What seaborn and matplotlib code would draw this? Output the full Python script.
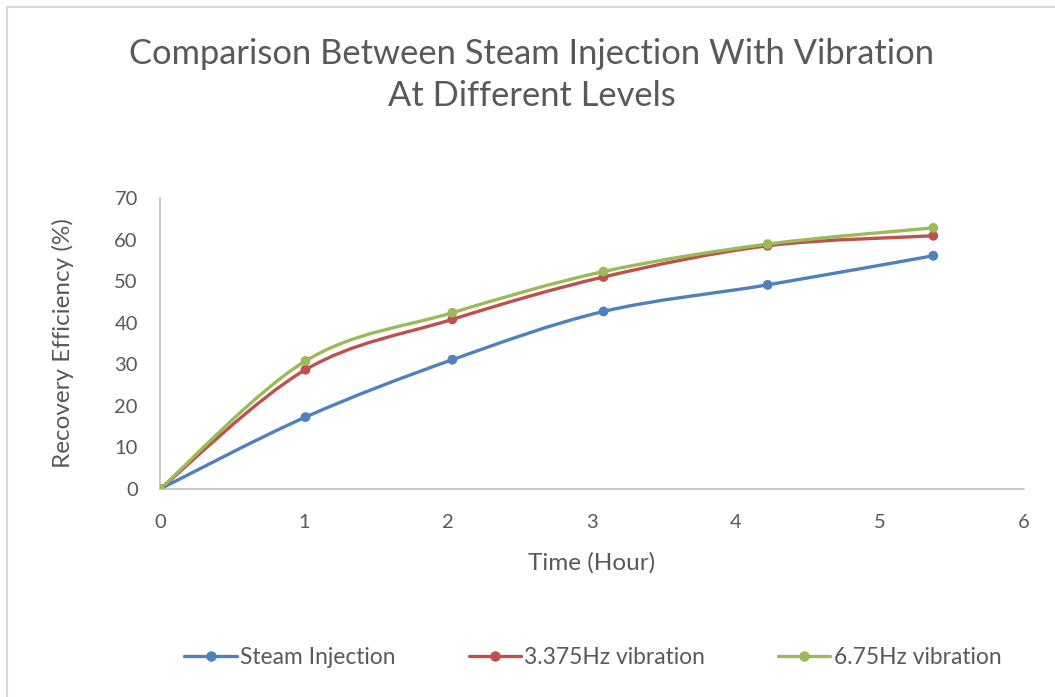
import numpy as np
import pandas as pd
import matplotlib
matplotlib.use('Agg')
import matplotlib.pyplot as plt
from matplotlib.path import Path
from matplotlib.patches import PathPatch, Rectangle
from matplotlib.lines import Line2D
import seaborn as sns

# values
hours = [0, 1.01, 2.03, 3.08, 4.22, 5.37]
steam_injection = [0, 17.3, 31.1, 42.7, 49.1, 56.1]
vib_3375 = [0, 28.7, 40.8, 51.0, 58.5, 60.9]
vib_675 = [0, 30.8, 42.4, 52.3, 58.9, 62.8]
series_names = ['Steam Injection', '3.375Hz vibration', '6.75Hz vibration']
colors = ['#4f81bd', '#c0504d', '#9bbb59']

df = pd.DataFrame({
    'time': hours * 3,
    'recovery': steam_injection + vib_3375 + vib_675,
    'series': [n for n in series_names for _ in hours],
})

sns.set_style('white')
plt.rcParams['font.family'] = ['Lato', 'DejaVu Sans']
text_col = '#595959'


def smooth_path(x, y):
    # Excel-style smoothed line: cubic bezier through each point
    pts = np.column_stack([x, y]).astype(float)
    n = len(pts)
    verts = [pts[0]]
    codes = [Path.MOVETO]
    for i in range(n - 1):
        p0 = pts[max(i - 1, 0)]
        p1 = pts[i]
        p2 = pts[i + 1]
        p3 = pts[min(i + 2, n - 1)]
        verts += [p1 + (p2 - p0) / 6, p2 - (p3 - p1) / 6, p2]
        codes += [Path.CURVE4] * 3
    return Path(verts, codes)


fig = plt.figure(figsize=(10.55, 6.97), dpi=100)
ax = fig.add_axes([0.1517, 0.2984, 0.8189, 0.4176])

for name, col in zip(series_names, colors):
    sub = df[df['series'] == name]
    ax.add_patch(PathPatch(smooth_path(sub['time'], sub['recovery']),
                           facecolor='none', edgecolor=col, lw=2.4,
                           capstyle='round', zorder=2))

sns.scatterplot(data=df, x='time', y='recovery', hue='series',
                palette=colors, s=50, edgecolor='none', legend=False,
                ax=ax, zorder=3)

ax.set_xlim(0, 6)
ax.set_ylim(0, 70)
ax.set_xticks(range(0, 7))
ax.set_yticks(range(0, 71, 10))
ax.tick_params(axis='both', length=0, labelsize=14.5, labelcolor=text_col)
ax.tick_params(axis='y', pad=16)
ax.tick_params(axis='x', pad=18)
for s in ['top', 'right']:
    ax.spines[s].set_visible(False)
for s in ['left', 'bottom']:
    ax.spines[s].set_color('#bfbfbf')
    ax.spines[s].set_linewidth(1.2)

ax.set_xlabel('Time (Hour)', fontsize=17.5, color=text_col, labelpad=15)
ax.set_ylabel('Recovery Efficiency (%)', fontsize=17.5, color=text_col, labelpad=29)

fig.text(0.504, 1 - 75 / 697,
         'Comparison Between Steam Injection With Vibration\nAt Different Levels',
         ha='center', va='center', fontsize=24.8, color=text_col, linespacing=1.42)

handles = [Line2D([], [], color=c, lw=2.4, marker='o', markersize=6.5) for c in colors]
fig.legend(handles, series_names, loc='center', ncol=3,
           bbox_to_anchor=(0.562, 1 - 657 / 697), frameon=False,
           fontsize=16.4, labelcolor=text_col, handlelength=2.3,
           handletextpad=0.15, columnspacing=3.2)

fig.add_artist(Rectangle((7 / 1055, -0.01), 1.0, 1 - 7 / 697 + 0.01,
                         transform=fig.transFigure, fill=False,
                         edgecolor='#d9d9d9', lw=1.5))

fig.savefig('out.png', dpi=100)
